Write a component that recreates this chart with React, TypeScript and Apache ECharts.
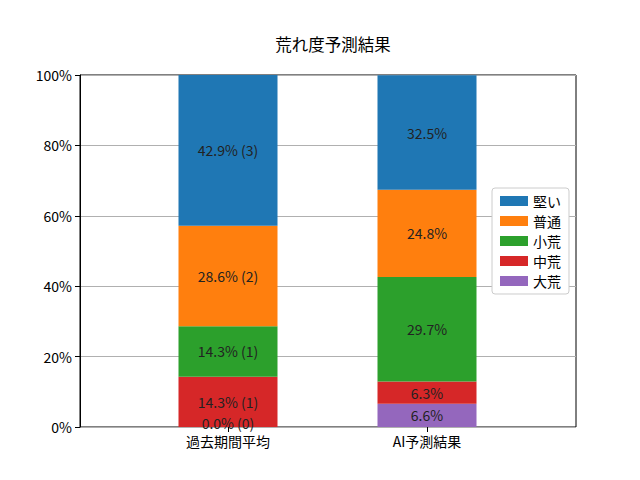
import React, { useEffect, useRef } from "react";
import * as echarts from "echarts";

const categories = ["過去期間平均", "AI予測結果"];
const seriesNames = ["大荒", "中荒", "小荒", "普通", "堅い"]; // bottom to top
const pastPct = [0.0, 14.3, 14.3, 28.6, 42.9];
const pastCount = [0, 1, 1, 2, 3];
const aiPct = [6.6, 6.3, 29.7, 24.8, 32.5];
const colors = ["#9467bd", "#d62728", "#2ca02c", "#ff7f0e", "#1f77b4"];
const legendOrder = ["堅い", "普通", "小荒", "中荒", "大荒"];

const FONT = "Noto Sans CJK JP, DejaVu Sans, sans-serif";

export default function App() {
  const ref = useRef<HTMLDivElement>(null);
  useEffect(() => {
    if (!ref.current) return;
    const chart = echarts.init(ref.current, null, { renderer: "svg" });
    const series = seriesNames.map((name, si) => ({
      name,
      type: "bar",
      stack: "total",
      xAxisIndex: 1,
      yAxisIndex: 1,
      barWidth: 99,
      itemStyle: { color: colors[si] },
      label: {
        show: true,
        position: "inside",
        color: "#222",
        fontSize: 14,
        fontFamily: FONT,
        formatter: (p: any) =>
          p.dataIndex === 0
            ? `${pastPct[si].toFixed(1)}% (${pastCount[si]})`
            : `${aiPct[si].toFixed(1)}%`,
      },
      data: [pastPct[si], aiPct[si]].map((v) =>
        v === 0 ? { value: v, label: { offset: [0, -4] } } : v
      ),
    }));
    chart.setOption({
      animation: false,
      textStyle: { fontFamily: FONT },
      title: {
        text: "荒れ度予測結果",
        left: 328,
        textAlign: "center",
        top: 31,
        textStyle: { fontSize: 16.5, fontWeight: "normal", color: "#000", fontFamily: FONT },
      },
      grid: [
        {
          left: 80,
          right: 64,
          top: 75,
          bottom: 53,
          show: true,
          borderColor: "#000",
          borderWidth: 1,
          backgroundColor: "transparent",
        },
        {
          left: 128.5,
          width: 398,
          top: 75,
          bottom: 53,
        },
      ],
      legend: {
        data: legendOrder,
        orient: "vertical",
        left: 492,
        top: 188,
        icon: "rect",
        itemWidth: 28,
        itemHeight: 10,
        itemGap: 6,
        padding: [6, 8, 6, 8],
        borderColor: "#ccc",
        borderWidth: 1,
        borderRadius: 3,
        backgroundColor: "#fff",
        textStyle: { fontSize: 14, color: "#000", fontFamily: FONT },
      },
      xAxis: [
        {
          type: "value",
          gridIndex: 0,
          min: 0,
          max: 1,
          show: false,
        },
        {
          type: "category",
          gridIndex: 1,
          data: categories,
          axisLine: { show: false },
          axisTick: {
            show: true,
            alignWithLabel: true,
            length: 5,
            lineStyle: { color: "#000" },
          },
          axisLabel: {
            color: "#000",
            fontSize: 14,
            fontFamily: FONT,
            margin: 7,
          },
        },
      ],
      yAxis: [
        {
          type: "value",
          gridIndex: 0,
          min: 0,
          max: 100,
          interval: 20,
          axisLine: { show: true, onZero: false, lineStyle: { color: "#000" } },
          axisTick: { show: true, length: 5, lineStyle: { color: "#000" } },
          axisLabel: {
            formatter: "{value}%",
            color: "#000",
            fontSize: 14,
            fontFamily: FONT,
            margin: 8,
          },
          splitLine: { show: true, lineStyle: { color: "#b0b0b0", width: 1 } },
        },
        {
          type: "value",
          gridIndex: 1,
          min: 0,
          max: 100,
          show: false,
        },
      ],
      series,
    });
    return () => chart.dispose();
  }, []);
  return (
    <div
      ref={ref}
      style={{ position: "fixed", left: 0, top: 0, width: 640, height: 480, background: "#fff" }}
    />
  );
}
